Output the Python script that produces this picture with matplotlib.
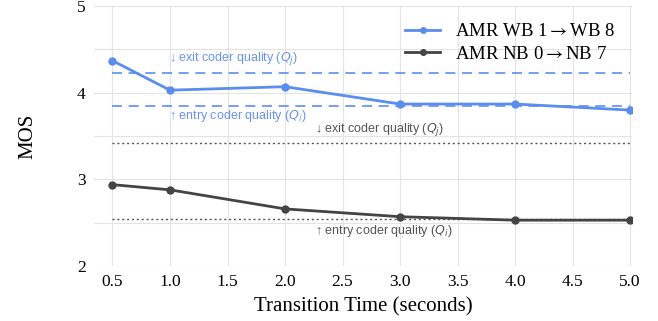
import matplotlib
matplotlib.use("Agg")
from matplotlib import pyplot as plt
from matplotlib.font_manager import FontProperties
import numpy as np

# data
t = np.array([0.5, 1.0, 2.0, 3.0, 4.0, 5.0])
mos_wb = np.array([4.37, 4.03, 4.07, 3.87, 3.87, 3.80])
mos_nb = np.array([2.94, 2.88, 2.66, 2.57, 2.53, 2.53])
wb_exit, wb_entry = 4.23, 3.85
nb_exit, nb_entry = 3.42, 2.54

blue = '#5b8def'
gray = '#444444'

plt.rcParams['font.family'] = ['Liberation Serif', 'DejaVu Serif']

fig, ax = plt.subplots(figsize=(6.58, 3.21), dpi=100)
fig.subplots_adjust(left=0.143, right=0.961, top=0.981, bottom=0.171)

ax.plot(t, mos_wb, color=blue, lw=2, marker='o', ms=5, label='AMR WB 1$\\rightarrow$WB 8', zorder=3)
ax.plot(t, mos_nb, color=gray, lw=2, marker='o', ms=5, label='AMR NB 0$\\rightarrow$NB 7', zorder=3)

# entry/exit quality reference lines
ax.hlines([wb_exit, wb_entry], t[0], t[-1], colors=blue, linestyles=(0, (6, 4)), lw=1.2)
ax.hlines([nb_exit, nb_entry], t[0], t[-1], colors='#555555', linestyles=(0, (1.5, 2)), lw=1)

sans = ['Liberation Sans', 'DejaVu Sans']
kw = dict(fontsize=9, family=sans, va='center', math_fontfamily='dejavusans')
ax.text(0.99, 4.40, '↓ exit coder quality ($Q_j$)', color='#6a93ee', **kw)
ax.text(0.99, 3.73, '↑ entry coder quality ($Q_i$)', color='#6a93ee', **kw)
ax.text(2.26, 3.58, '↓ exit coder quality ($Q_j$)', color='#555555', **kw)
ax.text(2.26, 2.41, '↑ entry coder quality ($Q_i$)', color='#555555', **kw)

ax.set_xlim(0.34, 5.02)
ax.set_ylim(2, 5)
ax.set_xticks(np.arange(0.5, 5.01, 0.5))
ax.set_xticklabels([f'{v:.1f}' for v in np.arange(0.5, 5.01, 0.5)])
ax.set_yticks([2, 3, 4, 5])
ax.set_yticks([2.5, 3.5, 4.5], minor=True)
ax.grid(True, which='both', color='#e3e3e3', lw=0.8)
ax.set_axisbelow(True)
for s in ax.spines.values():
    s.set_visible(False)
ax.tick_params(which='both', length=0, labelsize=12.5, pad=6)

ax.set_xlabel('Transition Time (seconds)', fontsize=15, labelpad=5)
ax.set_ylabel('MOS', fontsize=15)
ax.yaxis.set_label_coords(-0.105, 0.5)

leg_font = FontProperties(family=['Liberation Serif'], size=13.5, math_fontfamily='stix')
ax.legend(loc='upper right', frameon=False, prop=leg_font, handlelength=1.9,
          borderaxespad=0.5, labelspacing=0.3, markerscale=0.8)

plt.savefig('out.png', dpi=100)
